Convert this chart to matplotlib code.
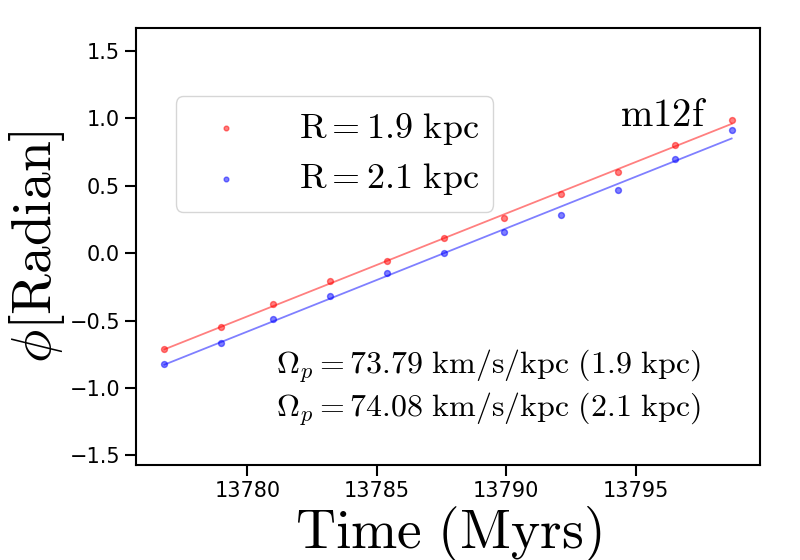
import numpy as np
import matplotlib
matplotlib.use("Agg")
import matplotlib.pyplot as plt

plt.rcParams["mathtext.fontset"] = "cm"

# snapshot times (Myr) and bar phase angles (radian)
time_myr = [13776.8, 13779.0, 13781.0, 13783.2, 13785.4, 13787.6,
            13789.9, 13792.1, 13794.3, 13796.5, 13798.7]
phi_19 = [-0.71, -0.55, -0.38, -0.21, -0.06, 0.11, 0.26, 0.44, 0.60, 0.80, 0.99]
phi_21 = [-0.82, -0.67, -0.49, -0.32, -0.15, 0.00, 0.16, 0.28, 0.47, 0.70, 0.91]
labels = [r"$\rm R = 1.9\ kpc$", r"$\rm R = 2.1\ kpc$"]
omega_txt = [r"$\Omega_p = 73.79\ \rm km/s/kpc\ (1.9\ kpc)$",
             r"$\Omega_p = 74.08\ \rm km/s/kpc\ (2.1\ kpc)$"]

fig = plt.figure(figsize=(8, 5.6), dpi=100)
ax = fig.add_axes([0.17, 0.17, 0.78, 0.78])

t = np.array(time_myr)
for phi, col, lab in [(phi_19, "red", labels[0]), (phi_21, "blue", labels[1])]:
    ax.scatter(t, phi, s=18, color=col, alpha=0.5, label=lab)
    a, b = np.polyfit(t, phi, 1)
    ax.plot(t, a * t + b, color=col, alpha=0.5, lw=1.3)

ax.set_ylim(-1.57, 1.67)
ax.set_yticks([-1.5, -1.0, -0.5, 0.0, 0.5, 1.0, 1.5])
ax.set_xticks([13780, 13785, 13790, 13795])
ax.tick_params(labelsize=15, length=8, width=1.5)
for s in ax.spines.values():
    s.set_linewidth(1.5)

ax.set_xlabel(r"$\rm Time\ (Myrs)$", fontsize=40, labelpad=2)
ax.set_ylabel(r"$\phi [\rm Radian]$", fontsize=40, labelpad=2)

ax.legend(loc="upper left", bbox_to_anchor=(0.035, 0.885), fontsize=26,
          markerscale=0.8, borderpad=0.4, handletextpad=1.0, labelspacing=0.4)
ax.text(0.915, 0.80, r"$\rm m12f$", transform=ax.transAxes, fontsize=28,
        ha="right", va="center")
ax.text(0.905, 0.21, omega_txt[0], transform=ax.transAxes, fontsize=23, ha="right")
ax.text(0.905, 0.11, omega_txt[1], transform=ax.transAxes, fontsize=23, ha="right")

fig.savefig("out.png", dpi=100)
